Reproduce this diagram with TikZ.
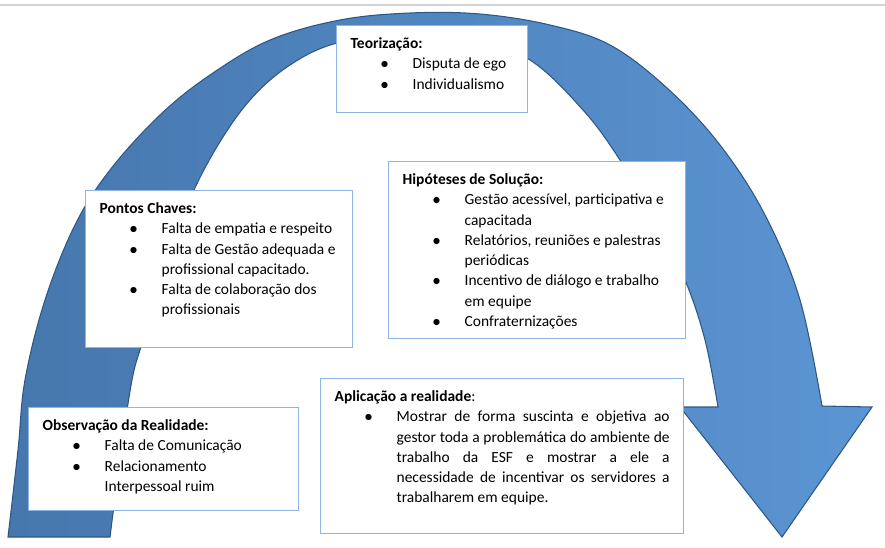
\documentclass[tikz,border=0pt]{standalone}
\usepackage{fontspec}
\setmainfont{Carlito}
\usepackage{tikz}
\usetikzlibrary{positioning}

\definecolor{bandleft}{HTML}{4677AD}
\definecolor{bandright}{HTML}{5B95D3}
\definecolor{bandline}{HTML}{2F5785}
\definecolor{boxline}{HTML}{8DB4E2}

\newenvironment{pointlist}{\begin{list}{$\bullet$}{\setlength{\leftmargin}{46.5pt}\setlength{\labelsep}{18pt}\setlength{\labelwidth}{28.5pt}\setlength{\itemsep}{0pt}\setlength{\parsep}{0pt}\setlength{\topsep}{0pt}\setlength{\partopsep}{0pt}}}{\end{list}}
\newcommand{\boxbody}[3]{\parbox[t][#2][t]{#1}{\fontsize{11.6}{15.2}\selectfont #3}}

\begin{document}
\begin{tikzpicture}[x=0.75pt, y=-0.75pt,
  band/.style={draw=bandline, line width=0.8pt, left color=bandleft, right color=bandright},
  stagebox/.style={draw=boxline, line width=1pt, fill=white, inner xsep=10.5pt, inner ysep=9pt, anchor=north west}]
  \useasboundingbox (0,0) rectangle (885,547);
  \draw[gray!35, line width=1.2pt] (0,5) -- (885,5);

  \path[band] plot[smooth, tension=0.6] coordinates {(8,537) (18,450) (25,380) (45,300) (75,225) (110,170) (160,115) (210,75) (270,40) (340,20) (410,13) (480,14) (550,25) (610,45) (667,88) (720,145) (765,215) (800,300) (822,406)}
    -- (872,407) -- (782,537) -- (680,407) -- (718,407)
    -- plot[smooth, tension=0.6] coordinates {(718,407) (705,340) (685,280) (655,220) (620,160) (583,110) (530,60) (470,38) (410,32) (337,43) (290,65) (250,100) (215,150) (185,210) (160,280) (143,340) (132,380) (120,460) (110,537)}
    -- cycle;

  \node[stagebox] (teoria) at (336,25) {\boxbody{122.25pt}{47.25pt}{\raggedright
    \textbf{Teorização:}
    \begin{pointlist}
      \item Disputa de ego
      \item Individualismo
    \end{pointlist}}};
  \node[stagebox] (hipoteses) at (388,161) {\boxbody{201.75pt}{114.75pt}{\raggedright
    \textbf{Hipóteses de Solução:}
    \begin{pointlist}
      \item Gestão acessível, participativa e\\ capacitada
      \item Relatórios, reuniões e palestras\\ periódicas
      \item Incentivo de diálogo e trabalho\\ em equipe
      \item Confraternizações
    \end{pointlist}}};
  \node[stagebox] (pontos) at (85,190) {\boxbody{179.25pt}{99.75pt}{\raggedright
    \textbf{Pontos Chaves:}
    \begin{pointlist}
      \item Falta de empatia e respeito
      \item Falta de Gestão adequada e\\ profissional capacitado.
      \item Falta de colaboração dos\\ profissionais
    \end{pointlist}}};
  \node[stagebox] (observacao) at (28,407) {\boxbody{181.5pt}{59.25pt}{\raggedright
    \textbf{Observação da Realidade:}
    \begin{pointlist}
      \item Falta de Comunicação
      \item Relacionamento\\ Interpessoal ruim
    \end{pointlist}}};
  \node[stagebox] (aplicacao) at (320,378) {\boxbody{251.25pt}{98.25pt}{\hyphenpenalty=10000 \tolerance=10000
    \textbf{Aplicação a realidade}:
    \begin{pointlist}
      \item Mostrar de forma suscinta e objetiva ao\linebreak gestor toda a problemática do ambiente de\linebreak trabalho da ESF e mostrar a ele a\linebreak necessidade de incentivar os servidores a\linebreak trabalharem em equipe.
    \end{pointlist}}};
\end{tikzpicture}
\end{document}
